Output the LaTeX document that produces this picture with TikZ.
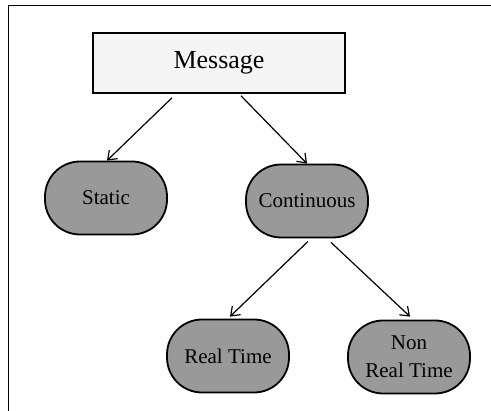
\documentclass[tikz,border=0pt]{standalone}
\usepackage{fontspec}
\setmainfont{Liberation Serif}
\usetikzlibrary{arrows.meta}
\begin{document}
\begin{tikzpicture}[x=1pt,y=-1pt,
  leaf/.style={draw=black, line width=1.8pt, fill=black!40, rounded corners=35pt,
    minimum width=122pt, minimum height=73pt, inner sep=0pt,
    font=\fontsize{21}{28}\selectfont, align=center},
  root/.style={draw=black, line width=1.6pt, fill=black!4,
    minimum width=252pt, minimum height=60pt, inner sep=0pt,
    font=\fontsize{26}{30}\selectfont},
  conn/.style={-{Straight Barb[length=8pt,width=12pt]}, line width=1.2pt},
  frameline/.style={line width=1.8pt}]
\useasboundingbox (0,0) rectangle (491,411);
\draw[frameline] (8.5,411) -- (8.5,5.5) -- (491,5.5);
\node[root] (msg) at (219,63) {\raisebox{-4pt}{Message}};
\node[leaf] (static) at (106,198) {Static};
\node[leaf] (cont) at (307,201) {Continuous};
\node[leaf] (rt) at (228,356) {Real Time};
\node[leaf] (nrt) at (409,357) {Non\\Real Time};
\draw[conn] ([xshift=-47pt,yshift=-4pt]msg.south) -- ([xshift=1pt]static.north);
\draw[conn] ([xshift=22pt,yshift=-2pt]msg.south) -- (cont.north);
\draw[conn] ([xshift=1pt,yshift=-3pt]cont.south) -- ([xshift=2pt,yshift=2pt]rt.north);
\draw[conn] ([xshift=24pt,yshift=-4pt]cont.south) -- ([xshift=1pt,yshift=3pt]nrt.north);
\end{tikzpicture}
\end{document}
